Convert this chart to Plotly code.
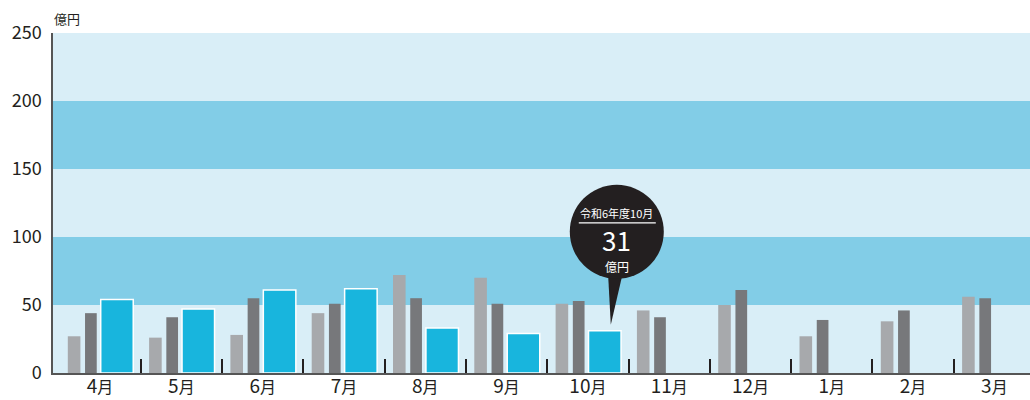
import plotly.graph_objects as go

months = ["4月", "5月", "6月", "7月", "8月", "9月", "10月", "11月", "12月", "1月", "2月", "3月"]
prev2 = [27, 26, 28, 44, 72, 70, 51, 46, 50, 27, 38, 56]      # light gray
prev1 = [44, 41, 55, 51, 55, 51, 53, 41, 61, 39, 46, 55]      # dark gray
current = [54, 47, 61, 62, 33, 29, 31, None, None, None, None, None]  # blue
callout_title = "令和6年度10月"
callout_unit = "億円"
y_ticks = [0, 50, 100, 150, 200, 250]

FONT = "Noto Sans CJK JP, Noto Sans, sans-serif"
idx = list(range(len(months)))

fig = go.Figure()
fig.add_trace(go.Bar(x=idx, y=prev2, offset=-0.397, width=0.155,
                     marker=dict(color="#a7a9ac", line=dict(width=0)), hoverinfo="skip"))
fig.add_trace(go.Bar(x=idx, y=prev1, offset=-0.185, width=0.144,
                     marker=dict(color="#77787b", line=dict(width=0)), hoverinfo="skip"))
fig.add_trace(go.Bar(x=idx, y=current, offset=0.008, width=0.40,
                     marker=dict(color="#18b5dd", line=dict(width=1.5, color="#ffffff")),
                     hoverinfo="skip"))

# background bands
for k in range(len(y_ticks) - 1):
    fig.add_shape(type="rect", xref="paper", yref="y", x0=0, x1=1,
                  y0=y_ticks[k], y1=y_ticks[k + 1], layer="below", line=dict(width=0),
                  fillcolor="#d9eef7" if k % 2 == 0 else "#82cde7")

# callout for latest month
ci = max(i for i, v in enumerate(current) if v is not None)
cx = ci + 0.208
cy = current[ci]
fig.add_shape(type="path", xref="x", yref="y", xsizemode="pixel", ysizemode="pixel",
              xanchor=cx, yanchor=cy, path="M 6,6 L 3,62 L 19,62 Z",
              fillcolor="#231f20", line=dict(width=0))
fig.add_shape(type="circle", xref="x", yref="y", xsizemode="pixel", ysizemode="pixel",
              xanchor=cx, yanchor=cy, x0=12 - 47, x1=12 + 47, y0=99 - 47, y1=99 + 47,
              fillcolor="#231f20", line=dict(width=0))
fig.add_shape(type="line", xref="x", yref="y", xsizemode="pixel", ysizemode="pixel",
              xanchor=cx, yanchor=cy, x0=-26, x1=51, y0=108, y1=108,
              line=dict(color="#ffffff", width=1.2))
fig.add_annotation(x=cx, y=cy, xref="x", yref="y", text=callout_title, showarrow=False,
                   xshift=12, yshift=118, font=dict(family=FONT, size=11, color="#ffffff"))
fig.add_annotation(x=cx, y=cy, xref="x", yref="y", text=str(cy), showarrow=False,
                   xshift=12, yshift=91, font=dict(family=FONT, size=26, color="#ffffff"))
fig.add_annotation(x=cx, y=cy, xref="x", yref="y", text=callout_unit, showarrow=False,
                   xshift=12, yshift=64, font=dict(family=FONT, size=12, color="#ffffff"))

# unit label
fig.add_annotation(x=0, y=1, xref="paper", yref="paper", text="億円", showarrow=False,
                   xanchor="left", yanchor="bottom", xshift=-1, yshift=3,
                   font=dict(family=FONT, size=13, color="#231f20"))

ticktext = [m[:-1] + "<span style='font-size:16px'>" + m[-1] + "</span>" for m in months]

fig.update_layout(
    width=1030, height=400,
    margin=dict(l=53, r=0, t=33, b=27),
    paper_bgcolor="#ffffff", plot_bgcolor="#d9eef7",
    barmode="overlay", showlegend=False,
    font=dict(family=FONT, color="#231f20"),
    xaxis=dict(range=[-0.579, 11.438], tickvals=idx, ticktext=ticktext, ticks="",
               automargin=False, ticklabelstandoff=-5,
               showgrid=False, zeroline=False, showline=True, linecolor="#555555", linewidth=1.5,
               tickfont=dict(size=19, color="#231f20"),
               minor=dict(tickvals=[i + 0.5 for i in idx[:-1]], ticks="inside", ticklen=14,
                          tickwidth=2, tickcolor="#231f20", showgrid=False)),
    yaxis=dict(range=[0, 250], tickvals=y_ticks, ticks="", showgrid=False, zeroline=False,
               automargin=False,
               showline=True, linecolor="#555555", linewidth=1.5,
               tickfont=dict(size=18, color="#231f20"), ticklabelstandoff=6),
)

fig.write_html("out.html", config={"displayModeBar": False},
               post_script="document.body.style.margin='0';document.body.style.overflow='hidden';")
